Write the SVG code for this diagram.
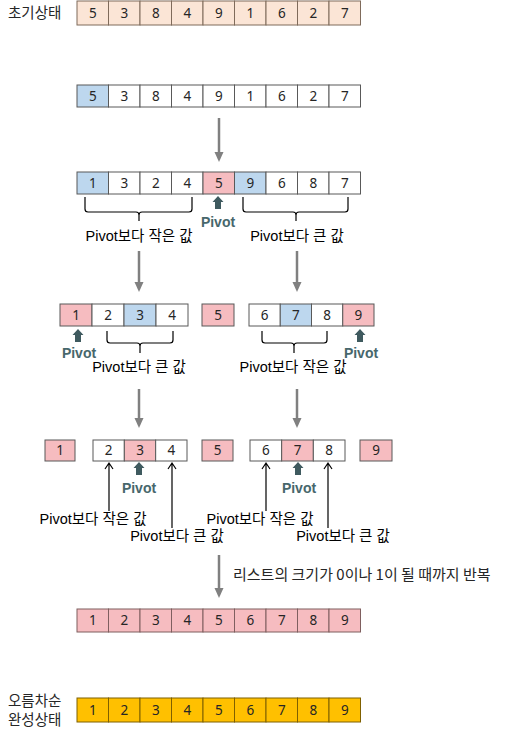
<svg xmlns="http://www.w3.org/2000/svg" width="512" height="736" viewBox="0 0 512 736">
<style>
.c{stroke:#595959;stroke-width:1;fill:#fff}
.b{fill:#BDD7EE}
.p{fill:#F6BCC0}
.n{font-family:"Noto Sans","Noto Sans CJK KR",sans-serif;font-size:13.5px;fill:#262626;text-anchor:middle}
.k{font-family:"Noto Sans CJK KR",sans-serif;font-size:14.5px;fill:#262626}
.l{font-family:"Liberation Sans","Noto Sans CJK KR",sans-serif;font-size:14.5px;fill:#000;text-anchor:middle}
.pv{font-family:"Liberation Sans",Arial,sans-serif;font-size:14px;font-weight:bold;fill:#47676C;text-anchor:middle}
.ga{stroke:#808080;stroke-width:2.5;fill:none}
.gh{fill:#808080}
.br{stroke:#000;stroke-width:1.2;fill:none}
.ta{stroke:#000;stroke-width:1.2;fill:none}
.pa{fill:#3F5A5F}
</style>
<defs>
<path id="pivA" d="M-3,13 V6 H-5.5 L0,0 L5.5,6 H3 V13 Z"/>
<path id="gHead" d="M-4.5,0 L4.5,0 L0,10 Z"/>
</defs>

<g id="label-initial"><text class="k" x="8" y="18">초기상태</text></g>

<g id="row1">
<g fill="#FBE5D6" stroke="#7F6B5B" stroke-width="1">
<rect x="77" y="1" width="31.5" height="24"/><rect x="108.5" y="1" width="31.5" height="24"/><rect x="140" y="1" width="31.5" height="24"/><rect x="171.5" y="1" width="31.5" height="24"/><rect x="203" y="1" width="31.5" height="24"/><rect x="234.5" y="1" width="31.5" height="24"/><rect x="266" y="1" width="31.5" height="24"/><rect x="297.5" y="1" width="31.5" height="24"/><rect x="329" y="1" width="31.5" height="24"/>
</g>
<g class="n"><text x="92.75" y="18">5</text><text x="124.25" y="18">3</text><text x="155.75" y="18">8</text><text x="187.25" y="18">4</text><text x="218.75" y="18">9</text><text x="250.25" y="18">1</text><text x="281.75" y="18">6</text><text x="313.25" y="18">2</text><text x="344.75" y="18">7</text></g>
</g>

<g id="row2">
<rect class="c b" x="77" y="85" width="31.5" height="22"/><rect class="c" x="108.5" y="85" width="31.5" height="22"/><rect class="c" x="140" y="85" width="31.5" height="22"/><rect class="c" x="171.5" y="85" width="31.5" height="22"/><rect class="c" x="203" y="85" width="31.5" height="22"/><rect class="c" x="234.5" y="85" width="31.5" height="22"/><rect class="c" x="266" y="85" width="31.5" height="22"/><rect class="c" x="297.5" y="85" width="31.5" height="22"/><rect class="c" x="329" y="85" width="31.5" height="22"/>
<g class="n"><text x="92.75" y="101">5</text><text x="124.25" y="101">3</text><text x="155.75" y="101">8</text><text x="187.25" y="101">4</text><text x="218.75" y="101">9</text><text x="250.25" y="101">1</text><text x="281.75" y="101">6</text><text x="313.25" y="101">2</text><text x="344.75" y="101">7</text></g>
</g>

<g id="row3">
<rect class="c b" x="77" y="172" width="31.5" height="22"/><rect class="c" x="108.5" y="172" width="31.5" height="22"/><rect class="c" x="140" y="172" width="31.5" height="22"/><rect class="c" x="171.5" y="172" width="31.5" height="22"/><rect class="c p" x="203" y="172" width="31.5" height="22"/><rect class="c b" x="234.5" y="172" width="31.5" height="22"/><rect class="c" x="266" y="172" width="31.5" height="22"/><rect class="c" x="297.5" y="172" width="31.5" height="22"/><rect class="c" x="329" y="172" width="31.5" height="22"/>
<g class="n"><text x="92.75" y="188">1</text><text x="124.25" y="188">3</text><text x="155.75" y="188">2</text><text x="187.25" y="188">4</text><text x="218.75" y="188">5</text><text x="250.25" y="188">9</text><text x="281.75" y="188">6</text><text x="313.25" y="188">8</text><text x="344.75" y="188">7</text></g>
</g>

<g id="row3-annot">
<path class="br" d="M85,197 V209 Q85,212 88,212 H136 Q139,212 139,215 V221 M139,215 Q139,212 142,212 H189 Q192,212 192,209 V197"/>
<path class="br" d="M243,197 V209 Q243,212 246,212 H293 Q296,212 296,215 V221 M296,215 Q296,212 299,212 H345 Q348,212 348,209 V197"/>
<use href="#pivA" class="pa" x="218" y="196"/>
<text class="pv" x="218" y="227">Pivot</text>
<text class="l" x="139" y="241">Pivot보다 작은 값</text>
<text class="l" x="297" y="241">Pivot보다 큰 값</text>
</g>

<g id="row4-left">
<rect class="c p" x="60" y="304" width="32" height="22"/><rect class="c" x="92" y="304" width="32" height="22"/><rect class="c b" x="124" y="304" width="32" height="22"/><rect class="c" x="156" y="304" width="32" height="22"/>
<g class="n"><text x="76" y="320">1</text><text x="108" y="320">2</text><text x="140" y="320">3</text><text x="172" y="320">4</text></g>
</g>
<g id="row4-mid">
<rect class="c p" x="202" y="304" width="32" height="22"/>
<text class="n" x="218" y="320">5</text>
</g>
<g id="row4-right">
<rect class="c" x="249" y="304" width="31.25" height="22"/><rect class="c b" x="280.25" y="304" width="31.25" height="22"/><rect class="c" x="311.5" y="304" width="31.25" height="22"/><rect class="c p" x="342.75" y="304" width="31.25" height="22"/>
<g class="n"><text x="264.6" y="320">6</text><text x="295.9" y="320">7</text><text x="327.1" y="320">8</text><text x="358.4" y="320">9</text></g>
</g>
<g id="row4-annot">
<use href="#pivA" class="pa" x="78" y="329"/>
<text class="pv" x="79" y="358">Pivot</text>
<use href="#pivA" class="pa" x="360" y="329"/>
<text class="pv" x="361" y="358">Pivot</text>
<path class="br" d="M107,331 V340 Q107,343 110,343 H137 Q140,343 140,346 V353 M140,346 Q140,343 143,343 H170 Q173,343 173,340 V331"/>
<path class="br" d="M262,331 V340 Q262,343 265,343 H291 Q294,343 294,346 V353 M294,346 Q294,343 297,343 H324 Q327,343 327,340 V331"/>
<text class="l" x="139" y="372">Pivot보다 큰 값</text>
<text class="l" x="293" y="372">Pivot보다 작은 값</text>
</g>

<g id="row5-1"><rect class="c p" x="45" y="440" width="30" height="21"/><text class="n" x="60" y="455">1</text></g>
<g id="row5-left">
<rect class="c" x="93" y="440" width="31.33" height="21"/><rect class="c p" x="124.33" y="440" width="31.33" height="21"/><rect class="c" x="155.67" y="440" width="31.33" height="21"/>
<g class="n"><text x="108.7" y="455">2</text><text x="140" y="455">3</text><text x="171.3" y="455">4</text></g>
</g>
<g id="row5-5"><rect class="c p" x="202" y="440" width="31" height="21"/><text class="n" x="217.5" y="455">5</text></g>
<g id="row5-right">
<rect class="c" x="250" y="440" width="31.67" height="21"/><rect class="c p" x="281.67" y="440" width="31.67" height="21"/><rect class="c" x="313.33" y="440" width="31.67" height="21"/>
<g class="n"><text x="265.8" y="455">6</text><text x="297.5" y="455">7</text><text x="329.2" y="455">8</text></g>
</g>
<g id="row5-9"><rect class="c p" x="360" y="440" width="32" height="21"/><text class="n" x="376" y="455">9</text></g>
<g id="row5-annot">
<use href="#pivA" class="pa" x="139" y="462"/>
<text class="pv" x="139" y="493">Pivot</text>
<use href="#pivA" class="pa" x="298" y="462"/>
<text class="pv" x="299" y="493">Pivot</text>
<text class="l" x="93" y="524">Pivot보다 작은 값</text>
<text class="l" x="177" y="541">Pivot보다 큰 값</text>
<text class="l" x="260" y="524">Pivot보다 작은 값</text>
<text class="l" x="343" y="541">Pivot보다 큰 값</text>
</g>

<g id="connectors">
<line class="ga" x1="219" y1="118" x2="219" y2="153"/><use href="#gHead" class="gh" x="219" y="152"/>
<line class="ga" x1="139" y1="251" x2="139" y2="283"/><use href="#gHead" class="gh" x="139" y="282"/>
<line class="ga" x1="297" y1="251" x2="297" y2="283"/><use href="#gHead" class="gh" x="297" y="282"/>
<line class="ga" x1="139" y1="389" x2="139" y2="419"/><use href="#gHead" class="gh" x="139" y="418"/>
<line class="ga" x1="297" y1="389" x2="297" y2="419"/><use href="#gHead" class="gh" x="297" y="418"/>
<line class="ga" x1="219" y1="555" x2="219" y2="589"/><use href="#gHead" class="gh" x="219" y="588"/>
<path class="ta" d="M109,511 V463 M105,469 L109,463 L113,469"/>
<path class="ta" d="M172,528 V463 M168,469 L172,463 L176,469"/>
<path class="ta" d="M266,511 V463 M262,469 L266,463 L270,469"/>
<path class="ta" d="M328,528 V463 M324,469 L328,463 L332,469"/>
</g>

<g id="repeat-label"><text class="k" style="font-size:15px" x="233" y="580">리스트의 크기가 0이나 1이 될 때까지 반복</text></g>

<g id="row6">
<g fill="#F6BCC0" stroke="#7F5F5F" stroke-width="1">
<rect x="77" y="609" width="31.5" height="23"/><rect x="108.5" y="609" width="31.5" height="23"/><rect x="140" y="609" width="31.5" height="23"/><rect x="171.5" y="609" width="31.5" height="23"/><rect x="203" y="609" width="31.5" height="23"/><rect x="234.5" y="609" width="31.5" height="23"/><rect x="266" y="609" width="31.5" height="23"/><rect x="297.5" y="609" width="31.5" height="23"/><rect x="329" y="609" width="31.5" height="23"/>
</g>
<g class="n"><text x="92.75" y="625">1</text><text x="124.25" y="625">2</text><text x="155.75" y="625">3</text><text x="187.25" y="625">4</text><text x="218.75" y="625">5</text><text x="250.25" y="625">6</text><text x="281.75" y="625">7</text><text x="313.25" y="625">8</text><text x="344.75" y="625">9</text></g>
</g>

<g id="label-final"><text class="k" x="8" y="706">오름차순</text><text class="k" x="8" y="725">완성상태</text></g>

<g id="row7">
<g fill="#FFC000" stroke="#7F6000" stroke-width="1">
<rect x="77" y="698" width="31.5" height="24"/><rect x="108.5" y="698" width="31.5" height="24"/><rect x="140" y="698" width="31.5" height="24"/><rect x="171.5" y="698" width="31.5" height="24"/><rect x="203" y="698" width="31.5" height="24"/><rect x="234.5" y="698" width="31.5" height="24"/><rect x="266" y="698" width="31.5" height="24"/><rect x="297.5" y="698" width="31.5" height="24"/><rect x="329" y="698" width="31.5" height="24"/>
</g>
<g class="n"><text x="92.75" y="715">1</text><text x="124.25" y="715">2</text><text x="155.75" y="715">3</text><text x="187.25" y="715">4</text><text x="218.75" y="715">5</text><text x="250.25" y="715">6</text><text x="281.75" y="715">7</text><text x="313.25" y="715">8</text><text x="344.75" y="715">9</text></g>
</g>
</svg>
